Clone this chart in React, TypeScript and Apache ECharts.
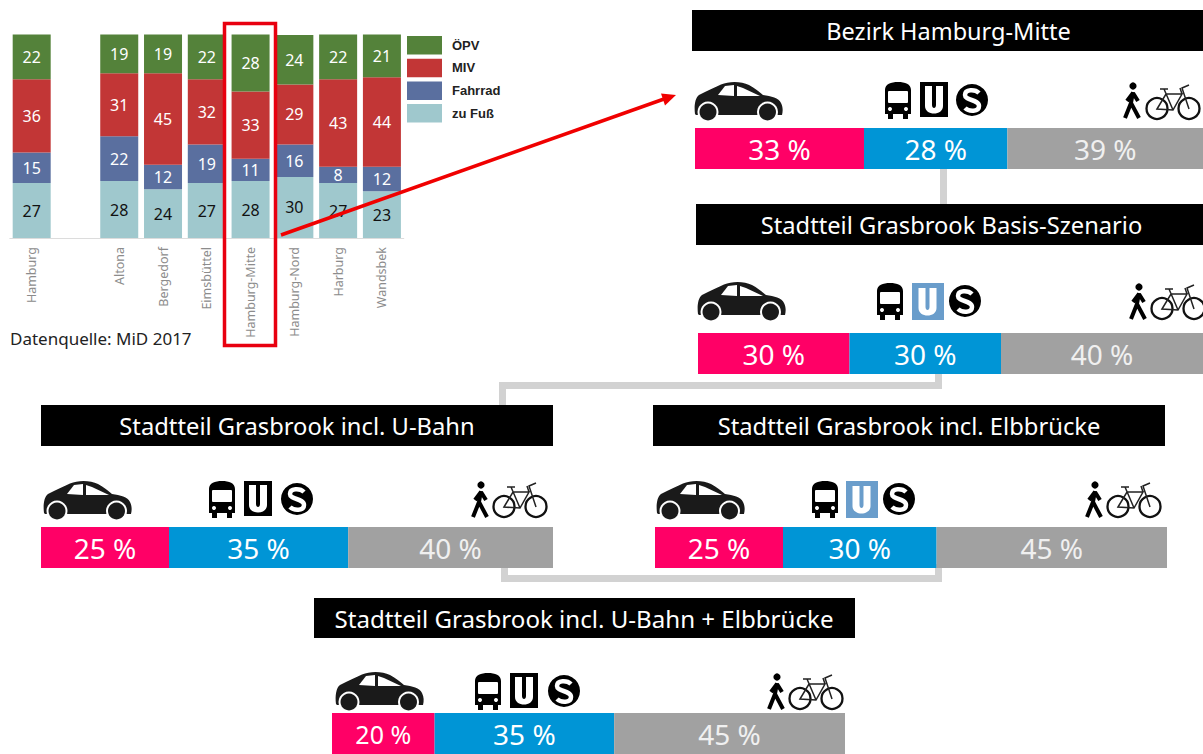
import React, { useEffect, useRef } from "react";
import * as echarts from "echarts";

// ---------- data ----------
const districts = ["Hamburg", "", "Altona", "Bergedorf", "Eimsbüttel", "Hamburg-Mitte", "Hamburg-Nord", "Harburg", "Wandsbek"];
const zuFuss = [27, null, 28, 24, 27, 28, 30, 27, 23];
const fahrrad = [15, null, 22, 12, 19, 11, 16, 8, 12];
const miv = [36, null, 31, 45, 32, 33, 29.4, 43, 44];
const oepv = [22, null, 19, 19, 22, 28, 24.4, 22, 21];

const modeNames = ["Auto", "ÖPNV", "Rad und Fuß"];
const shareHamburgMitte = [33, 28, 39];
const shareBasis = [30, 30, 40];
const shareUBahn = [25, 35, 40];
const shareElbbruecke = [25, 30, 45];
const shareBoth = [20, 35, 45];

const titleHamburgMitte = "Bezirk Hamburg-Mitte";
const titleBasis = "Stadtteil Grasbrook Basis-Szenario";
const titleUBahn = "Stadtteil Grasbrook incl. U-Bahn";
const titleElbbruecke = "Stadtteil Grasbrook incl. Elbbrücke";
const titleBoth = "Stadtteil Grasbrook incl. U-Bahn + Elbbrücke";
const sourceText = "Datenquelle: MiD 2017";

// ---------- layout ----------
const FONT = '"Noto Sans", "Open Sans", sans-serif';
const panels = [
  { shares: shareHamburgMitte, title: titleHamburgMitte, t: [692, 10, 511, 41], b: [695, 128, 508, 41], axisMax: 99.2, tcx: 948.5, titleSize: 23.5, car: [695, 82], bus: [885, 82], u: [920, 82], s: [957, 83], w: [1122, 82], k: [1146, 82], blueU: false },
  { shares: shareBasis, title: titleBasis, t: [696, 204, 507, 41], b: [698, 333, 505, 41], axisMax: 100, tcx: 951.5, titleSize: 23.7, car: [698, 282], bus: [877, 283], u: [912, 283], s: [950, 284], w: [1128, 283], k: [1151, 282], blueU: true },
  { shares: shareUBahn, title: titleUBahn, t: [41, 405, 512, 41], b: [41, 527, 512, 41], axisMax: 100, tcx: 297, titleSize: 23.75, car: [44, 481], bus: [209, 481], u: [244, 481], s: [282, 482], w: [470, 481], k: [493, 480], blueU: false },
  { shares: shareElbbruecke, title: titleElbbruecke, t: [653, 405, 512, 41], b: [655, 527, 512, 41], axisMax: 100, tcx: 909, titleSize: 23.75, car: [657, 481], bus: [812, 481], u: [846, 481], s: [884, 482], w: [1084, 481], k: [1107, 480], blueU: true },
  { shares: shareBoth, title: titleBoth, t: [314, 598, 541, 40], b: [332, 713, 513, 41], axisMax: 100, tcx: 584, titleSize: 24.1, car: [336, 672], bus: [475, 673], u: [510, 673], s: [549, 674], w: [766, 673], k: [789, 672], blueU: false },
];
const modeColors = ["#ff0066", "#0095d6", "#a1a1a1"];
const modeLabelColors = ["#ffffff", "#ffffff", "#f0f0f0"];

// ---------- icon shapes ----------
echarts.graphic.registerShape("carBody", echarts.graphic.extendPath("M0 32 C-1 24 0 16 4 13 C12 9 20 5 26 2.5 C34 -1 46 -1 54 3 C60 6 64 10 68 13 C76 14 84 16 86 21 C88 25 88 29 87 33 L1 33 Z", {}));
echarts.graphic.registerShape("busBody", echarts.graphic.extendPath("M0 8 C0 2 6 0 13 0 C20 0 26 2 26 8 L26 32 L23 32 L23 37 L18 37 L18 32 L8 32 L8 37 L3 37 L3 32 L0 32 Z", {}));
echarts.graphic.registerShape("uLetter", echarts.graphic.extendPath("M5 4 L12 4 L12 23 C12 27 16 27 16 23 L16 4 L23 4 L23 24 C23 34 5 34 5 24 Z", {}));
echarts.graphic.registerShape("sLetter", echarts.graphic.extendPath("M22 10 C18 6 8 6 8 12 C8 18 22 16 22 23 C22 29 12 29 8 25", {}));
echarts.graphic.registerShape("walkerBody", echarts.graphic.extendPath("M11 10 L9 21 L17 36 M9 21 L3 36 M11 11 L16 19 M11 11 L5 19", {}));
echarts.graphic.registerShape("bikeFrame", echarts.graphic.extendPath("M11 27 L20 12 L36 12 L27 28 Z M27 28 L18 7 M14 7 L22 7 M43 27 L36 6 L43 3 M36 12 L34 6", {}));

const Z = 20;
function carIcon([x, y]: number[]) {
  return { type: "group", x, y, z: Z, children: [
    { type: "carBody", style: { fill: "#1a1a1a" }, z: Z },
    { type: "polygon", shape: { points: [[23, 13], [30, 4], [39, 3], [39, 14]] }, style: { fill: "#fff" }, z: Z + 1 },
    { type: "polygon", shape: { points: [[42, 4], [48, 6], [65, 14], [42, 14]] }, style: { fill: "#fff" }, z: Z + 1 },
    { type: "circle", shape: { cx: 13, cy: 30, r: 10.5 }, style: { fill: "#fff" }, z: Z + 1 },
    { type: "circle", shape: { cx: 72.5, cy: 30, r: 10.5 }, style: { fill: "#fff" }, z: Z + 1 },
    { type: "circle", shape: { cx: 13, cy: 30, r: 8.5 }, style: { fill: "#1a1a1a" }, z: Z + 2 },
    { type: "circle", shape: { cx: 72.5, cy: 30, r: 8.5 }, style: { fill: "#1a1a1a" }, z: Z + 2 },
  ] };
}
function busIcon([x, y]: number[]) {
  return { type: "group", x, y, z: Z, children: [
    { type: "busBody", style: { fill: "#000" }, z: Z },
    { type: "rect", shape: { x: 3, y: 9, width: 20, height: 12, r: 1 }, style: { fill: "#fff" }, z: Z + 1 },
    { type: "circle", shape: { cx: 5, cy: 27, r: 2 }, style: { fill: "#fff" }, z: Z + 1 },
    { type: "circle", shape: { cx: 21, cy: 27, r: 2 }, style: { fill: "#fff" }, z: Z + 1 },
  ] };
}
function uIcon([x, y]: number[], blue: boolean) {
  return { type: "group", x, y, z: Z, children: [
    { type: "rect", shape: { x: 0, y: 0, width: blue ? 32 : 28, height: blue ? 37 : 35 }, style: { fill: blue ? "#6a9dcb" : "#000" }, z: Z },
    { type: "uLetter", x: blue ? 1.5 : 0, y: blue ? 1 : 0, style: { fill: "#fff" }, z: Z + 1 },
  ] };
}
function sIcon([x, y]: number[]) {
  return { type: "group", x, y, z: Z, children: [
    { type: "circle", shape: { cx: 15, cy: 17, r: 16 }, style: { fill: "#000" }, z: Z },
    { type: "sLetter", style: { fill: "none", stroke: "#fff", lineWidth: 4.5 }, z: Z + 1 },
  ] };
}
function walkerIcon([x, y]: number[]) {
  return { type: "group", x, y, z: Z, children: [
    { type: "circle", shape: { cx: 11, cy: 4, r: 3.6 }, style: { fill: "#000" }, z: Z },
    { type: "walkerBody", style: { fill: "none", stroke: "#000", lineWidth: 4 }, z: Z },
  ] };
}
function bikeIcon([x, y]: number[]) {
  return { type: "group", x, y, z: Z, children: [
    { type: "circle", shape: { cx: 11, cy: 26.5, r: 10.5 }, style: { fill: "none", stroke: "#111", lineWidth: 2.3 }, z: Z },
    { type: "circle", shape: { cx: 43, cy: 26.5, r: 10.5 }, style: { fill: "none", stroke: "#111", lineWidth: 2.3 }, z: Z },
    { type: "bikeFrame", style: { fill: "none", stroke: "#222", lineWidth: 1.5 }, z: Z },
  ] };
}
const connector = (points: number[][]) => ({
  type: "polyline", z: 1, shape: { points }, style: { fill: "none", stroke: "#d2d2d2", lineWidth: 7 },
});

const barSeries = (name: string, data: (number | null)[], color: string, labelColor: string) => ({
  type: "bar", name, stack: "main", xAxisIndex: 0, yAxisIndex: 0, barWidth: 38, data, itemStyle: { color },
  label: {
    show: true, position: "inside", color: labelColor, fontFamily: FONT, fontSize: 16,
    formatter: (p: any) => (p.value == null ? "" : String(Math.round(p.value))),
  },
});

export default function App() {
  const ref = useRef<HTMLDivElement>(null);
  useEffect(() => {
    document.body.style.margin = "0";
    const chart = echarts.init(ref.current!, undefined, { renderer: "svg" });

    const grids: any[] = [{ left: 9.8, width: 394, top: 34.5, height: 203.5 }];
    const xAxes: any[] = [{
      type: "category", gridIndex: 0, data: districts,
      axisLine: { lineStyle: { color: "#dcdcdc" } }, axisTick: { show: false },
      axisLabel: { rotate: 90, interval: 0, margin: 9, color: "#8c8c8c", fontFamily: FONT, fontSize: 12.5 },
    }];
    const yAxes: any[] = [{ type: "value", gridIndex: 0, min: 0, max: 100, show: false }];
    const series: any[] = [
      barSeries("zu Fuß", zuFuss, "#9fc8cd", "#111111"),
      barSeries("Fahrrad", fahrrad, "#5a6f9f", "#ffffff"),
      barSeries("MIV", miv, "#c23636", "#ffffff"),
      barSeries("ÖPV", oepv, "#54823a", "#ffffff"),
    ];
    const graphics: any[] = [
      connector([[943.5, 165], [943.5, 208]]),
      connector([[502.5, 409], [502.5, 385.5], [938.5, 385.5], [938.5, 370]]),
      connector([[504.5, 564], [504.5, 578.5], [938.5, 578.5], [938.5, 564]]),
    ];

    panels.forEach((p, i) => {
      const g = i + 1;
      grids.push({ left: p.b[0], top: p.b[1], width: p.b[2], height: p.b[3] });
      xAxes.push({ type: "value", gridIndex: g, min: 0, max: p.axisMax, show: false });
      yAxes.push({ type: "category", gridIndex: g, data: [p.title], show: false });
      p.shares.forEach((v, k) => {
        series.push({
          type: "bar", name: modeNames[k], stack: "panel" + g, xAxisIndex: g, yAxisIndex: g,
          barWidth: "100%", data: [v], itemStyle: { color: modeColors[k] },
          label: {
            show: true, position: "inside", formatter: "{c} %", fontFamily: FONT,
            fontSize: i === 4 && k === 0 ? 25 : 28, color: modeLabelColors[k],
          },
        });
      });
      graphics.push(
        { type: "rect", z: 5, shape: { x: p.t[0], y: p.t[1], width: p.t[2], height: p.t[3] }, style: { fill: "#000" } },
        { type: "text", z: 6, x: p.tcx, y: p.t[1] + p.t[3] / 2, style: { text: p.title, fill: "#fff", font: `${p.titleSize}px ${FONT}`, align: "center", verticalAlign: "middle" } },
        carIcon(p.car), busIcon(p.bus), uIcon(p.u, p.blueU), sIcon(p.s), walkerIcon(p.w), bikeIcon(p.k),
      );
    });

    graphics.push(
      { type: "rect", z: 30, shape: { x: 224.5, y: 23.5, width: 51, height: 322 }, style: { fill: "none", stroke: "#e8000f", lineWidth: 3.5 } },
      { type: "line", z: 30, shape: { x1: 281, y1: 235, x2: 664, y2: 99 }, style: { stroke: "#f00000", lineWidth: 3.5 } },
      { type: "polygon", z: 30, shape: { points: [[676, 95], [665, 105.4], [661, 93.5]] }, style: { fill: "#f00000" } },
      { type: "text", z: 30, x: 10, y: 338, style: { text: sourceText, fill: "#222", font: `17px ${FONT}`, verticalAlign: "middle" } },
    );

    chart.setOption({
      animation: false,
      backgroundColor: "#fff",
      legend: {
        data: ["ÖPV", "MIV", "Fahrrad", "zu Fuß"],
        left: 407, top: 36, padding: 0, orient: "vertical", icon: "rect", selectedMode: false,
        itemWidth: 35, itemHeight: 18.5, itemGap: 4.2,
        textStyle: { fontFamily: '"Liberation Sans", Arial, sans-serif', fontWeight: "bold", fontSize: 13, color: "#222", padding: [0, 0, 0, 5] },
      },
      grid: grids, xAxis: xAxes, yAxis: yAxes, series, graphic: { elements: graphics },
    });
    return () => chart.dispose();
  }, []);
  return <div ref={ref} style={{ width: 1203, height: 754 }} />;
}
